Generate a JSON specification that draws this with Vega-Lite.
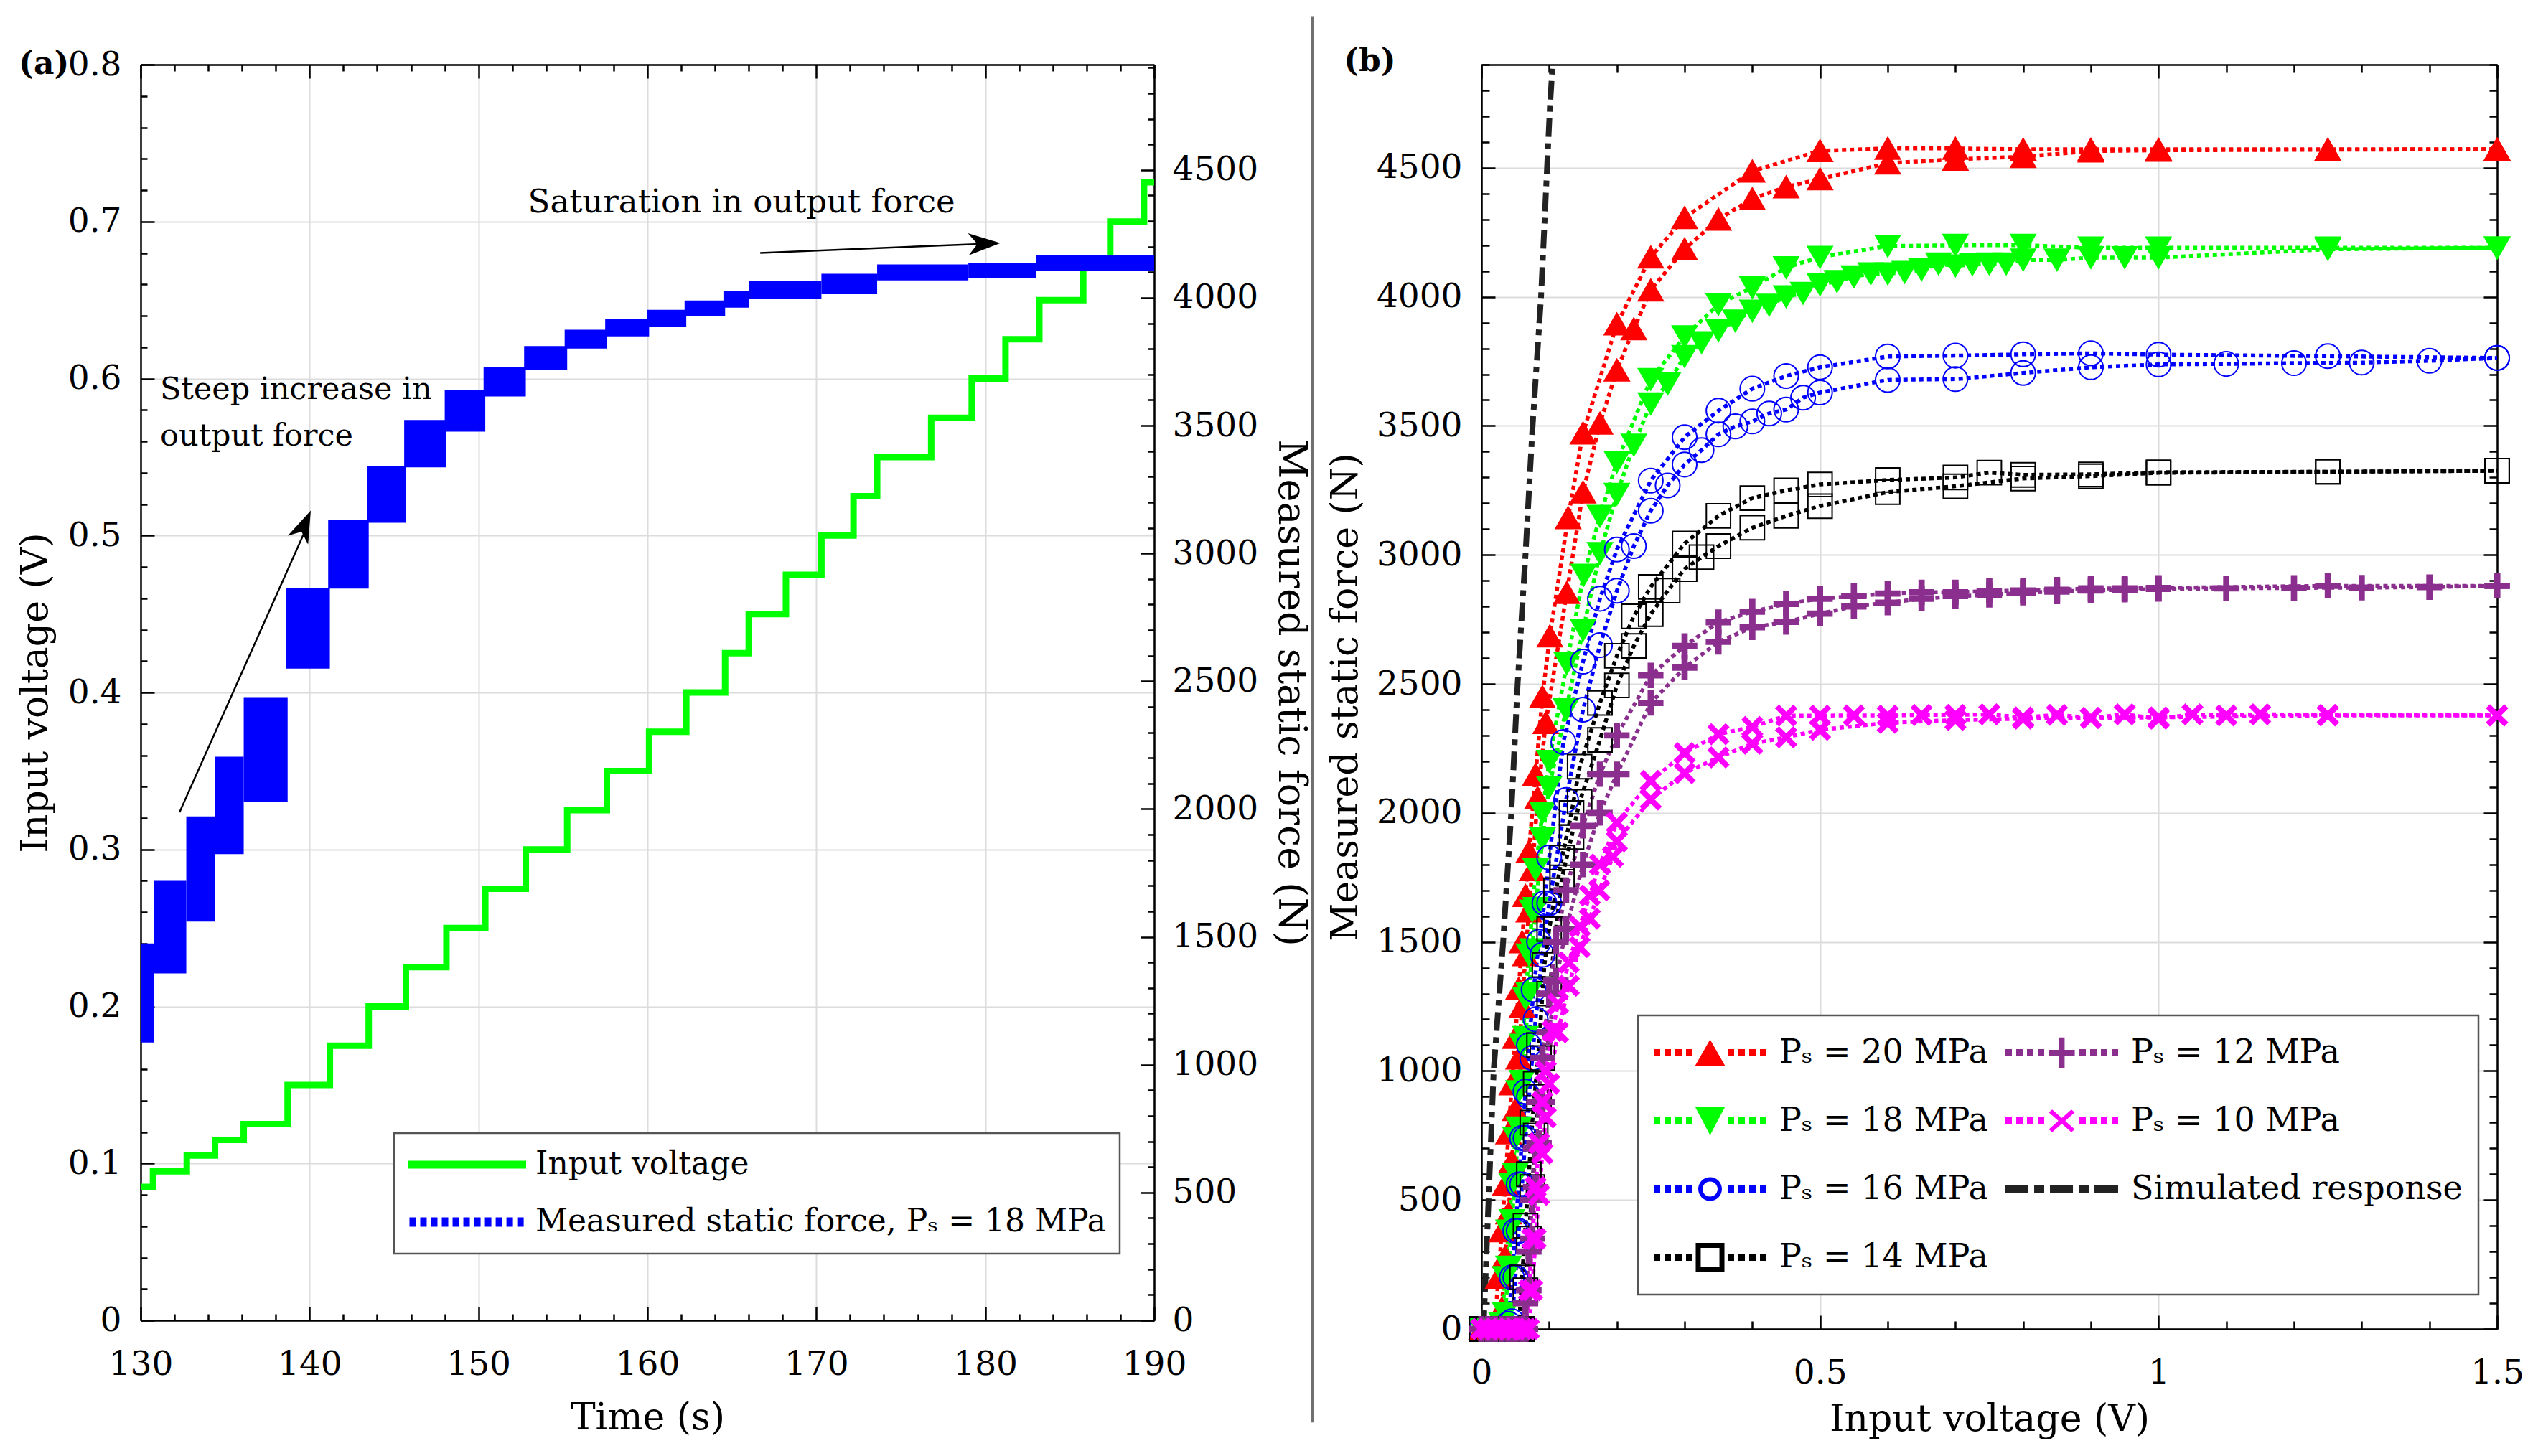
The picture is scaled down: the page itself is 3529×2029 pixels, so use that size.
{
  "$schema": "https://vega.github.io/schema/vega-lite/v6.json",
  "background": "white",
  "padding": {"left": 23, "top": 20, "right": 10, "bottom": 10},
  "config": {
    "font": "DejaVu Serif",
    "view": {"stroke": null},
    "axis": {
      "domainColor": "#000000",
      "domainWidth": 2.5,
      "tickColor": "#000000",
      "tickWidth": 2.5,
      "labelFontSize": 47,
      "labelColor": "#000000",
      "titleFontSize": 52,
      "titleFontWeight": "normal",
      "titleColor": "#000000",
      "gridColor": "#dcdcdc",
      "gridWidth": 2,
      "labelFlush": false,
      "labelOverlap": false
    },
    "legend": {"labelColor": "#000000"}
  },
  "resolve": {"scale": {"color": "independent"}, "legend": {"color": "independent"}},
  "datasets": {
    "volt": [
      {"t": 130, "v": 0.085}, {"t": 130.73, "v": 0.095}, {"t": 132.73, "v": 0.105}, {"t": 134.4, "v": 0.115},
      {"t": 136.1, "v": 0.125}, {"t": 138.7, "v": 0.15}, {"t": 141.2, "v": 0.175}, {"t": 143.5, "v": 0.2},
      {"t": 145.7, "v": 0.225}, {"t": 148.1, "v": 0.25}, {"t": 150.4, "v": 0.275}, {"t": 152.8, "v": 0.3},
      {"t": 155.25, "v": 0.325}, {"t": 157.6, "v": 0.35}, {"t": 160.1, "v": 0.375}, {"t": 162.3, "v": 0.4},
      {"t": 164.6, "v": 0.425}, {"t": 166.0, "v": 0.45}, {"t": 168.2, "v": 0.475}, {"t": 170.3, "v": 0.5},
      {"t": 172.2, "v": 0.525}, {"t": 173.6, "v": 0.55}, {"t": 176.8, "v": 0.575}, {"t": 179.2, "v": 0.6},
      {"t": 181.2, "v": 0.625}, {"t": 183.2, "v": 0.65}, {"t": 185.8, "v": 0.675}, {"t": 187.4, "v": 0.7},
      {"t": 189.4, "v": 0.725}, {"t": 190, "v": 0.725}
    ],
    "force": [
      {"t0": 130, "t1": 130.8, "lo": 1087, "hi": 1474},
      {"t0": 130.8, "t1": 132.7, "lo": 1357, "hi": 1719},
      {"t0": 132.7, "t1": 134.4, "lo": 1560, "hi": 1971},
      {"t0": 134.4, "t1": 136.1, "lo": 1824, "hi": 2205},
      {"t0": 136.1, "t1": 138.7, "lo": 2027, "hi": 2438},
      {"t0": 138.6, "t1": 141.2, "lo": 2549, "hi": 2865},
      {"t0": 141.1, "t1": 143.5, "lo": 2862, "hi": 3132},
      {"t0": 143.4, "t1": 145.7, "lo": 3120, "hi": 3341},
      {"t0": 145.6, "t1": 148.1, "lo": 3337, "hi": 3522},
      {"t0": 148.0, "t1": 150.4, "lo": 3476, "hi": 3639},
      {"t0": 150.3, "t1": 152.8, "lo": 3614, "hi": 3728},
      {"t0": 152.7, "t1": 155.25, "lo": 3719, "hi": 3811},
      {"t0": 155.1, "t1": 157.6, "lo": 3801, "hi": 3875},
      {"t0": 157.5, "t1": 160.1, "lo": 3849, "hi": 3916},
      {"t0": 160.0, "t1": 162.3, "lo": 3887, "hi": 3953},
      {"t0": 162.2, "t1": 164.6, "lo": 3928, "hi": 3989},
      {"t0": 164.5, "t1": 166.0, "lo": 3961, "hi": 4025},
      {"t0": 166.0, "t1": 170.3, "lo": 3996, "hi": 4065},
      {"t0": 170.3, "t1": 173.6, "lo": 4014, "hi": 4094},
      {"t0": 173.6, "t1": 179.0, "lo": 4068, "hi": 4130},
      {"t0": 179.0, "t1": 183.0, "lo": 4076, "hi": 4137},
      {"t0": 183.0, "t1": 190.0, "lo": 4105, "hi": 4167}
    ],
    "curves": [
      {"s":"20","b":"u","v":0,"f":0},{"s":"20","b":"u","v":0.01,"f":0},{"s":"20","b":"u","v":0.02,"f":30},{"s":"20","b":"u","v":0.025,"f":200},
      {"s":"20","b":"u","v":0.03,"f":380},{"s":"20","b":"u","v":0.035,"f":560},{"s":"20","b":"u","v":0.04,"f":760},{"s":"20","b":"u","v":0.045,"f":950},
      {"s":"20","b":"u","v":0.05,"f":1130},{"s":"20","b":"u","v":0.055,"f":1320},{"s":"20","b":"u","v":0.06,"f":1500},{"s":"20","b":"u","v":0.065,"f":1680},
      {"s":"20","b":"u","v":0.07,"f":1850},{"s":"20","b":"u","v":0.08,"f":2150},{"s":"20","b":"u","v":0.09,"f":2450},{"s":"20","b":"u","v":0.101,"f":2686},
      {"s":"20","b":"u","v":0.128,"f":3144},{"s":"20","b":"u","v":0.15,"f":3472},{"s":"20","b":"u","v":0.2,"f":3895},{"s":"20","b":"u","v":0.25,"f":4154},
      {"s":"20","b":"u","v":0.3,"f":4307},{"s":"20","b":"u","v":0.4,"f":4487},{"s":"20","b":"u","v":0.5,"f":4566},{"s":"20","b":"u","v":0.6,"f":4575},
      {"s":"20","b":"u","v":0.7,"f":4575},{"s":"20","b":"u","v":0.8,"f":4572},{"s":"20","b":"u","v":0.9,"f":4572},{"s":"20","b":"u","v":1,"f":4572},
      {"s":"20","b":"u","v":1.25,"f":4572},{"s":"20","b":"u","v":1.5,"f":4572},
      {"s":"20","b":"l","v":0,"f":0},{"s":"20","b":"l","v":0.01,"f":0},{"s":"20","b":"l","v":0.02,"f":0},{"s":"20","b":"l","v":0.03,"f":80},
      {"s":"20","b":"l","v":0.035,"f":280},{"s":"20","b":"l","v":0.04,"f":450},{"s":"20","b":"l","v":0.045,"f":650},{"s":"20","b":"l","v":0.05,"f":850},
      {"s":"20","b":"l","v":0.055,"f":1050},{"s":"20","b":"l","v":0.06,"f":1250},{"s":"20","b":"l","v":0.065,"f":1450},{"s":"20","b":"l","v":0.07,"f":1620},
      {"s":"20","b":"l","v":0.075,"f":1780},{"s":"20","b":"l","v":0.083,"f":2059},{"s":"20","b":"l","v":0.095,"f":2350},{"s":"20","b":"l","v":0.126,"f":2854},
      {"s":"20","b":"l","v":0.15,"f":3243},{"s":"20","b":"l","v":0.175,"f":3510},{"s":"20","b":"l","v":0.2,"f":3716},{"s":"20","b":"l","v":0.225,"f":3876},
      {"s":"20","b":"l","v":0.25,"f":4026},{"s":"20","b":"l","v":0.3,"f":4185},{"s":"20","b":"l","v":0.35,"f":4301},{"s":"20","b":"l","v":0.4,"f":4380},
      {"s":"20","b":"l","v":0.45,"f":4426},{"s":"20","b":"l","v":0.5,"f":4457},{"s":"20","b":"l","v":0.6,"f":4518},{"s":"20","b":"l","v":0.7,"f":4533},
      {"s":"20","b":"l","v":0.8,"f":4543},{"s":"20","b":"l","v":0.9,"f":4565},{"s":"20","b":"l","v":1,"f":4568},{"s":"20","b":"l","v":1.25,"f":4570},
      {"s":"20","b":"l","v":1.5,"f":4572},

      {"s":"18","b":"u","v":0,"f":0},{"s":"18","b":"u","v":0.01,"f":0},{"s":"18","b":"u","v":0.02,"f":0},{"s":"18","b":"u","v":0.03,"f":20},
      {"s":"18","b":"u","v":0.035,"f":200},{"s":"18","b":"u","v":0.04,"f":380},{"s":"18","b":"u","v":0.045,"f":560},{"s":"18","b":"u","v":0.05,"f":740},
      {"s":"18","b":"u","v":0.055,"f":920},{"s":"18","b":"u","v":0.06,"f":1100},{"s":"18","b":"u","v":0.065,"f":1280},{"s":"18","b":"u","v":0.07,"f":1450},
      {"s":"18","b":"u","v":0.075,"f":1620},{"s":"18","b":"u","v":0.08,"f":1780},{"s":"18","b":"u","v":0.09,"f":2000},{"s":"18","b":"u","v":0.1,"f":2200},
      {"s":"18","b":"u","v":0.126,"f":2579},{"s":"18","b":"u","v":0.151,"f":2922},{"s":"18","b":"u","v":0.175,"f":3150},{"s":"18","b":"u","v":0.2,"f":3360},
      {"s":"18","b":"u","v":0.25,"f":3680},{"s":"18","b":"u","v":0.3,"f":3846},{"s":"18","b":"u","v":0.35,"f":3971},{"s":"18","b":"u","v":0.4,"f":4036},
      {"s":"18","b":"u","v":0.45,"f":4113},{"s":"18","b":"u","v":0.5,"f":4154},{"s":"18","b":"u","v":0.6,"f":4197},{"s":"18","b":"u","v":0.7,"f":4200},
      {"s":"18","b":"u","v":0.8,"f":4200},{"s":"18","b":"u","v":0.9,"f":4190},{"s":"18","b":"u","v":1,"f":4190},{"s":"18","b":"u","v":1.25,"f":4190},
      {"s":"18","b":"u","v":1.5,"f":4190},
      {"s":"18","b":"l","v":0,"f":0},{"s":"18","b":"l","v":0.01,"f":0},{"s":"18","b":"l","v":0.02,"f":0},{"s":"18","b":"l","v":0.03,"f":0},
      {"s":"18","b":"l","v":0.035,"f":60},{"s":"18","b":"l","v":0.04,"f":240},{"s":"18","b":"l","v":0.045,"f":420},{"s":"18","b":"l","v":0.05,"f":600},
      {"s":"18","b":"l","v":0.055,"f":780},{"s":"18","b":"l","v":0.06,"f":960},{"s":"18","b":"l","v":0.065,"f":1130},{"s":"18","b":"l","v":0.07,"f":1300},
      {"s":"18","b":"l","v":0.075,"f":1470},{"s":"18","b":"l","v":0.08,"f":1630},{"s":"18","b":"l","v":0.09,"f":1900},{"s":"18","b":"l","v":0.1,"f":2100},
      {"s":"18","b":"l","v":0.125,"f":2400},{"s":"18","b":"l","v":0.15,"f":2708},{"s":"18","b":"l","v":0.175,"f":3006},{"s":"18","b":"l","v":0.2,"f":3235},
      {"s":"18","b":"l","v":0.225,"f":3426},{"s":"18","b":"l","v":0.25,"f":3586},{"s":"18","b":"l","v":0.275,"f":3663},{"s":"18","b":"l","v":0.3,"f":3769},
      {"s":"18","b":"l","v":0.325,"f":3823},{"s":"18","b":"l","v":0.35,"f":3869},{"s":"18","b":"l","v":0.375,"f":3907},{"s":"18","b":"l","v":0.4,"f":3945},
      {"s":"18","b":"l","v":0.425,"f":3968},{"s":"18","b":"l","v":0.45,"f":4001},{"s":"18","b":"l","v":0.475,"f":4014},{"s":"18","b":"l","v":0.5,"f":4047},
      {"s":"18","b":"l","v":0.525,"f":4060},{"s":"18","b":"l","v":0.55,"f":4078},{"s":"18","b":"l","v":0.575,"f":4090},{"s":"18","b":"l","v":0.6,"f":4090},
      {"s":"18","b":"l","v":0.625,"f":4095},{"s":"18","b":"l","v":0.65,"f":4105},{"s":"18","b":"l","v":0.675,"f":4128},{"s":"18","b":"l","v":0.7,"f":4120},
      {"s":"18","b":"l","v":0.725,"f":4125},{"s":"18","b":"l","v":0.75,"f":4128},{"s":"18","b":"l","v":0.775,"f":4128},{"s":"18","b":"l","v":0.8,"f":4143},
      {"s":"18","b":"l","v":0.85,"f":4143},{"s":"18","b":"l","v":0.9,"f":4152},{"s":"18","b":"l","v":0.95,"f":4152},{"s":"18","b":"l","v":1,"f":4152},
      {"s":"18","b":"l","v":1.25,"f":4184},{"s":"18","b":"l","v":1.5,"f":4190},

      {"s":"16","b":"u","v":0,"f":0},{"s":"16","b":"u","v":0.01,"f":0},{"s":"16","b":"u","v":0.02,"f":0},{"s":"16","b":"u","v":0.03,"f":0},
      {"s":"16","b":"u","v":0.04,"f":20},{"s":"16","b":"u","v":0.045,"f":200},{"s":"16","b":"u","v":0.05,"f":380},{"s":"16","b":"u","v":0.055,"f":560},
      {"s":"16","b":"u","v":0.06,"f":740},{"s":"16","b":"u","v":0.065,"f":920},{"s":"16","b":"u","v":0.07,"f":1100},{"s":"16","b":"u","v":0.077,"f":1315},
      {"s":"16","b":"u","v":0.085,"f":1500},{"s":"16","b":"u","v":0.093,"f":1650},{"s":"16","b":"u","v":0.1,"f":1827},{"s":"16","b":"u","v":0.121,"f":2275},
      {"s":"16","b":"u","v":0.15,"f":2586},{"s":"16","b":"u","v":0.175,"f":2830},{"s":"16","b":"u","v":0.2,"f":3021},{"s":"16","b":"u","v":0.25,"f":3288},
      {"s":"16","b":"u","v":0.3,"f":3456},{"s":"16","b":"u","v":0.35,"f":3559},{"s":"16","b":"u","v":0.4,"f":3644},{"s":"16","b":"u","v":0.45,"f":3693},
      {"s":"16","b":"u","v":0.5,"f":3727},{"s":"16","b":"u","v":0.6,"f":3769},{"s":"16","b":"u","v":0.7,"f":3772},{"s":"16","b":"u","v":0.8,"f":3777},
      {"s":"16","b":"u","v":0.9,"f":3781},{"s":"16","b":"u","v":1,"f":3776},{"s":"16","b":"u","v":1.25,"f":3770},{"s":"16","b":"u","v":1.5,"f":3763},
      {"s":"16","b":"l","v":0,"f":0},{"s":"16","b":"l","v":0.01,"f":0},{"s":"16","b":"l","v":0.02,"f":0},{"s":"16","b":"l","v":0.03,"f":0},
      {"s":"16","b":"l","v":0.04,"f":0},{"s":"16","b":"l","v":0.045,"f":30},{"s":"16","b":"l","v":0.05,"f":200},{"s":"16","b":"l","v":0.055,"f":380},
      {"s":"16","b":"l","v":0.06,"f":560},{"s":"16","b":"l","v":0.065,"f":740},{"s":"16","b":"l","v":0.07,"f":900},{"s":"16","b":"l","v":0.075,"f":1050},
      {"s":"16","b":"l","v":0.08,"f":1200},{"s":"16","b":"l","v":0.09,"f":1450},{"s":"16","b":"l","v":0.1,"f":1650},{"s":"16","b":"l","v":0.125,"f":2050},
      {"s":"16","b":"l","v":0.15,"f":2400},{"s":"16","b":"l","v":0.175,"f":2650},{"s":"16","b":"l","v":0.2,"f":2861},{"s":"16","b":"l","v":0.225,"f":3034},
      {"s":"16","b":"l","v":0.25,"f":3171},{"s":"16","b":"l","v":0.275,"f":3269},{"s":"16","b":"l","v":0.3,"f":3350},{"s":"16","b":"l","v":0.325,"f":3406},
      {"s":"16","b":"l","v":0.35,"f":3467},{"s":"16","b":"l","v":0.375,"f":3498},{"s":"16","b":"l","v":0.4,"f":3517},{"s":"16","b":"l","v":0.425,"f":3548},
      {"s":"16","b":"l","v":0.45,"f":3563},{"s":"16","b":"l","v":0.475,"f":3609},{"s":"16","b":"l","v":0.5,"f":3629},{"s":"16","b":"l","v":0.6,"f":3678},
      {"s":"16","b":"l","v":0.7,"f":3681},{"s":"16","b":"l","v":0.8,"f":3705},{"s":"16","b":"l","v":0.9,"f":3727},{"s":"16","b":"l","v":1,"f":3738},
      {"s":"16","b":"l","v":1.1,"f":3740},{"s":"16","b":"l","v":1.2,"f":3743},{"s":"16","b":"l","v":1.3,"f":3745},{"s":"16","b":"l","v":1.4,"f":3752},
      {"s":"16","b":"l","v":1.5,"f":3763},

      {"s":"14","b":"u","v":0,"f":0},{"s":"14","b":"u","v":0.01,"f":0},{"s":"14","b":"u","v":0.02,"f":0},{"s":"14","b":"u","v":0.03,"f":0},
      {"s":"14","b":"u","v":0.04,"f":0},{"s":"14","b":"u","v":0.05,"f":0},{"s":"14","b":"u","v":0.055,"f":0},{"s":"14","b":"u","v":0.06,"f":200},
      {"s":"14","b":"u","v":0.065,"f":400},{"s":"14","b":"u","v":0.07,"f":600},{"s":"14","b":"u","v":0.075,"f":800},{"s":"14","b":"u","v":0.08,"f":950},
      {"s":"14","b":"u","v":0.085,"f":1100},{"s":"14","b":"u","v":0.093,"f":1411},{"s":"14","b":"u","v":0.1,"f":1550},{"s":"14","b":"u","v":0.11,"f":1700},
      {"s":"14","b":"u","v":0.119,"f":1827},{"s":"14","b":"u","v":0.133,"f":2000},{"s":"14","b":"u","v":0.145,"f":2179},{"s":"14","b":"u","v":0.175,"f":2426},
      {"s":"14","b":"u","v":0.2,"f":2609},{"s":"14","b":"u","v":0.225,"f":2762},{"s":"14","b":"u","v":0.25,"f":2876},{"s":"14","b":"u","v":0.3,"f":3044},
      {"s":"14","b":"u","v":0.35,"f":3151},{"s":"14","b":"u","v":0.4,"f":3220},{"s":"14","b":"u","v":0.45,"f":3250},{"s":"14","b":"u","v":0.5,"f":3273},
      {"s":"14","b":"u","v":0.6,"f":3290},{"s":"14","b":"u","v":0.7,"f":3300},{"s":"14","b":"u","v":0.75,"f":3319},{"s":"14","b":"u","v":0.8,"f":3310},
      {"s":"14","b":"u","v":0.9,"f":3312},{"s":"14","b":"u","v":1,"f":3320},{"s":"14","b":"u","v":1.25,"f":3322},{"s":"14","b":"u","v":1.5,"f":3326},
      {"s":"14","b":"l","v":0,"f":0},{"s":"14","b":"l","v":0.01,"f":0},{"s":"14","b":"l","v":0.02,"f":0},{"s":"14","b":"l","v":0.03,"f":0},
      {"s":"14","b":"l","v":0.04,"f":0},{"s":"14","b":"l","v":0.05,"f":0},{"s":"14","b":"l","v":0.06,"f":0},{"s":"14","b":"l","v":0.065,"f":150},
      {"s":"14","b":"l","v":0.07,"f":350},{"s":"14","b":"l","v":0.075,"f":550},{"s":"14","b":"l","v":0.08,"f":750},{"s":"14","b":"l","v":0.085,"f":900},
      {"s":"14","b":"l","v":0.09,"f":1050},{"s":"14","b":"l","v":0.1,"f":1300},{"s":"14","b":"l","v":0.11,"f":1550},{"s":"14","b":"l","v":0.119,"f":1750},
      {"s":"14","b":"l","v":0.133,"f":1907},{"s":"14","b":"l","v":0.145,"f":2043},{"s":"14","b":"l","v":0.175,"f":2283},{"s":"14","b":"l","v":0.2,"f":2494},
      {"s":"14","b":"l","v":0.225,"f":2647},{"s":"14","b":"l","v":0.25,"f":2770},{"s":"14","b":"l","v":0.275,"f":2861},{"s":"14","b":"l","v":0.3,"f":2945},
      {"s":"14","b":"l","v":0.325,"f":2991},{"s":"14","b":"l","v":0.35,"f":3034},{"s":"14","b":"l","v":0.4,"f":3105},{"s":"14","b":"l","v":0.45,"f":3151},
      {"s":"14","b":"l","v":0.5,"f":3189},{"s":"14","b":"l","v":0.6,"f":3243},{"s":"14","b":"l","v":0.7,"f":3266},{"s":"14","b":"l","v":0.8,"f":3296},
      {"s":"14","b":"l","v":0.9,"f":3305},{"s":"14","b":"l","v":1,"f":3318},{"s":"14","b":"l","v":1.25,"f":3322},{"s":"14","b":"l","v":1.5,"f":3326},

      {"s":"12","b":"u","v":0,"f":0},{"s":"12","b":"u","v":0.01,"f":0},{"s":"12","b":"u","v":0.02,"f":0},{"s":"12","b":"u","v":0.03,"f":0},
      {"s":"12","b":"u","v":0.04,"f":0},{"s":"12","b":"u","v":0.05,"f":0},{"s":"12","b":"u","v":0.06,"f":0},{"s":"12","b":"u","v":0.065,"f":100},
      {"s":"12","b":"u","v":0.07,"f":300},{"s":"12","b":"u","v":0.075,"f":500},{"s":"12","b":"u","v":0.08,"f":700},{"s":"12","b":"u","v":0.085,"f":880},
      {"s":"12","b":"u","v":0.09,"f":1050},{"s":"12","b":"u","v":0.1,"f":1300},{"s":"12","b":"u","v":0.11,"f":1500},{"s":"12","b":"u","v":0.125,"f":1700},
      {"s":"12","b":"u","v":0.15,"f":1950},{"s":"12","b":"u","v":0.175,"f":2150},{"s":"12","b":"u","v":0.2,"f":2300},{"s":"12","b":"u","v":0.25,"f":2533},
      {"s":"12","b":"u","v":0.3,"f":2647},{"s":"12","b":"u","v":0.35,"f":2739},{"s":"12","b":"u","v":0.4,"f":2780},{"s":"12","b":"u","v":0.45,"f":2810},
      {"s":"12","b":"u","v":0.5,"f":2830},{"s":"12","b":"u","v":0.55,"f":2840},{"s":"12","b":"u","v":0.6,"f":2850},{"s":"12","b":"u","v":0.65,"f":2855},
      {"s":"12","b":"u","v":0.7,"f":2855},{"s":"12","b":"u","v":0.75,"f":2860},{"s":"12","b":"u","v":0.8,"f":2862},{"s":"12","b":"u","v":0.85,"f":2865},
      {"s":"12","b":"u","v":0.9,"f":2870},{"s":"12","b":"u","v":0.95,"f":2870},{"s":"12","b":"u","v":1,"f":2872},{"s":"12","b":"u","v":1.25,"f":2880},
      {"s":"12","b":"u","v":1.5,"f":2880},
      {"s":"12","b":"l","v":0,"f":0},{"s":"12","b":"l","v":0.01,"f":0},{"s":"12","b":"l","v":0.02,"f":0},{"s":"12","b":"l","v":0.03,"f":0},
      {"s":"12","b":"l","v":0.04,"f":0},{"s":"12","b":"l","v":0.05,"f":0},{"s":"12","b":"l","v":0.06,"f":0},{"s":"12","b":"l","v":0.065,"f":0},
      {"s":"12","b":"l","v":0.07,"f":150},{"s":"12","b":"l","v":0.075,"f":350},{"s":"12","b":"l","v":0.08,"f":550},{"s":"12","b":"l","v":0.085,"f":720},
      {"s":"12","b":"l","v":0.09,"f":880},{"s":"12","b":"l","v":0.1,"f":1150},{"s":"12","b":"l","v":0.11,"f":1350},{"s":"12","b":"l","v":0.125,"f":1550},
      {"s":"12","b":"l","v":0.15,"f":1800},{"s":"12","b":"l","v":0.175,"f":2000},{"s":"12","b":"l","v":0.2,"f":2150},{"s":"12","b":"l","v":0.25,"f":2426},
      {"s":"12","b":"l","v":0.3,"f":2563},{"s":"12","b":"l","v":0.35,"f":2663},{"s":"12","b":"l","v":0.4,"f":2719},{"s":"12","b":"l","v":0.45,"f":2740},
      {"s":"12","b":"l","v":0.5,"f":2772},{"s":"12","b":"l","v":0.55,"f":2800},{"s":"12","b":"l","v":0.6,"f":2815},{"s":"12","b":"l","v":0.65,"f":2830},
      {"s":"12","b":"l","v":0.7,"f":2840},{"s":"12","b":"l","v":0.75,"f":2845},{"s":"12","b":"l","v":0.8,"f":2853},{"s":"12","b":"l","v":0.85,"f":2858},
      {"s":"12","b":"l","v":0.9,"f":2862},{"s":"12","b":"l","v":0.95,"f":2865},{"s":"12","b":"l","v":1,"f":2868},{"s":"12","b":"l","v":1.1,"f":2870},
      {"s":"12","b":"l","v":1.2,"f":2872},{"s":"12","b":"l","v":1.3,"f":2873},{"s":"12","b":"l","v":1.4,"f":2875},{"s":"12","b":"l","v":1.5,"f":2880},

      {"s":"10","b":"u","v":0,"f":0},{"s":"10","b":"u","v":0.01,"f":0},{"s":"10","b":"u","v":0.02,"f":0},{"s":"10","b":"u","v":0.03,"f":0},
      {"s":"10","b":"u","v":0.04,"f":0},{"s":"10","b":"u","v":0.05,"f":0},{"s":"10","b":"u","v":0.06,"f":0},{"s":"10","b":"u","v":0.065,"f":0},
      {"s":"10","b":"u","v":0.07,"f":150},{"s":"10","b":"u","v":0.075,"f":350},{"s":"10","b":"u","v":0.08,"f":550},{"s":"10","b":"u","v":0.085,"f":720},
      {"s":"10","b":"u","v":0.09,"f":880},{"s":"10","b":"u","v":0.095,"f":1000},{"s":"10","b":"u","v":0.105,"f":1155},{"s":"10","b":"u","v":0.113,"f":1260},
      {"s":"10","b":"u","v":0.129,"f":1420},{"s":"10","b":"u","v":0.145,"f":1560},{"s":"10","b":"u","v":0.16,"f":1680},{"s":"10","b":"u","v":0.175,"f":1800},
      {"s":"10","b":"u","v":0.2,"f":1962},{"s":"10","b":"u","v":0.25,"f":2124},{"s":"10","b":"u","v":0.3,"f":2232},{"s":"10","b":"u","v":0.35,"f":2305},
      {"s":"10","b":"u","v":0.4,"f":2333},{"s":"10","b":"u","v":0.45,"f":2377},{"s":"10","b":"u","v":0.5,"f":2377},{"s":"10","b":"u","v":0.55,"f":2378},
      {"s":"10","b":"u","v":0.6,"f":2377},{"s":"10","b":"u","v":0.65,"f":2380},{"s":"10","b":"u","v":0.7,"f":2380},{"s":"10","b":"u","v":0.75,"f":2382},
      {"s":"10","b":"u","v":0.8,"f":2370},{"s":"10","b":"u","v":0.85,"f":2380},{"s":"10","b":"u","v":0.9,"f":2368},{"s":"10","b":"u","v":0.95,"f":2382},
      {"s":"10","b":"u","v":1,"f":2365},{"s":"10","b":"u","v":1.05,"f":2382},{"s":"10","b":"u","v":1.1,"f":2378},{"s":"10","b":"u","v":1.15,"f":2382},
      {"s":"10","b":"u","v":1.25,"f":2380},{"s":"10","b":"u","v":1.5,"f":2378},
      {"s":"10","b":"l","v":0,"f":0},{"s":"10","b":"l","v":0.01,"f":0},{"s":"10","b":"l","v":0.02,"f":0},{"s":"10","b":"l","v":0.03,"f":0},
      {"s":"10","b":"l","v":0.04,"f":0},{"s":"10","b":"l","v":0.05,"f":0},{"s":"10","b":"l","v":0.06,"f":0},{"s":"10","b":"l","v":0.07,"f":0},
      {"s":"10","b":"l","v":0.075,"f":150},{"s":"10","b":"l","v":0.08,"f":350},{"s":"10","b":"l","v":0.085,"f":520},{"s":"10","b":"l","v":0.09,"f":680},
      {"s":"10","b":"l","v":0.095,"f":820},{"s":"10","b":"l","v":0.1,"f":950},{"s":"10","b":"l","v":0.113,"f":1150},{"s":"10","b":"l","v":0.129,"f":1330},
      {"s":"10","b":"l","v":0.145,"f":1480},{"s":"10","b":"l","v":0.16,"f":1590},{"s":"10","b":"l","v":0.174,"f":1700},{"s":"10","b":"l","v":0.194,"f":1830},
      {"s":"10","b":"l","v":0.2,"f":1890},{"s":"10","b":"l","v":0.25,"f":2052},{"s":"10","b":"l","v":0.3,"f":2154},{"s":"10","b":"l","v":0.35,"f":2215},
      {"s":"10","b":"l","v":0.4,"f":2268},{"s":"10","b":"l","v":0.45,"f":2293},{"s":"10","b":"l","v":0.5,"f":2322},{"s":"10","b":"l","v":0.6,"f":2349},
      {"s":"10","b":"l","v":0.7,"f":2360},{"s":"10","b":"l","v":0.8,"f":2365},{"s":"10","b":"l","v":0.9,"f":2368},{"s":"10","b":"l","v":1,"f":2370},
      {"s":"10","b":"l","v":1.25,"f":2378},{"s":"10","b":"l","v":1.5,"f":2378},

      {"s":"sim","b":"s","v":0.003,"f":0},{"s":"sim","b":"s","v":0.018,"f":1000},{"s":"sim","b":"s","v":0.032,"f":1500},{"s":"sim","b":"s","v":0.044,"f":2000},
      {"s":"sim","b":"s","v":0.0534,"f":2500},{"s":"sim","b":"s","v":0.065,"f":3000},{"s":"sim","b":"s","v":0.0755,"f":3500},{"s":"sim","b":"s","v":0.088,"f":4000},
      {"s":"sim","b":"s","v":0.101,"f":4731},{"s":"sim","b":"s","v":0.105,"f":4900}
    ]
  },
  "spacing": 456,
  "bounds": "flush",
  "hconcat": [
    {
      "width": 1412,
      "height": 1750,
      "layer": [
        {
          "data": {"name": "volt"},
          "mark": {"type": "line", "interpolate": "step-after", "strokeWidth": 9},
          "encoding": {
            "x": {
              "field": "t", "type": "quantitative",
              "scale": {"domain": [130, 190], "nice": false, "zero": false},
              "axis": {
                "orient": "bottom", "title": "Time (s)", "titlePadding": 16,
                "values": [130,132,134,136,138,140,142,144,146,148,150,152,154,156,158,160,162,164,166,168,170,172,174,176,178,180,182,184,186,188,190],
                "format": "d",
                "labelExpr": "datum.value % 10 == 0 ? datum.label : ''",
                "tickSize": {"condition": {"test": "datum.value % 10 == 0", "value": -19}, "value": -9},
                "labelPadding": 57,
                "grid": true,
                "gridOpacity": {"condition": {"test": "datum.value % 10 == 0", "value": 1}, "value": 0}
              }
            },
            "y": {
              "field": "v", "type": "quantitative",
              "scale": {"domain": [0, 0.8], "nice": false},
              "axis": {
                "orient": "left", "title": "Input voltage (V)", "titlePadding": 18,
                "values": [0,0.02,0.04,0.06,0.08,0.1,0.12,0.14,0.16,0.18,0.2,0.22,0.24,0.26,0.28,0.3,0.32,0.34,0.36,0.38,0.4,0.42,0.44,0.46,0.48,0.5,0.52,0.54,0.56,0.58,0.6,0.62,0.64,0.66,0.68,0.7,0.72,0.74,0.76,0.78,0.8],
                "format": "~g",
                "labelExpr": "abs(datum.value*10 - round(datum.value*10)) < 1e-6 ? datum.label : ''",
                "tickSize": {"condition": {"test": "abs(datum.value*10 - round(datum.value*10)) < 1e-6", "value": -19}, "value": -9},
                "labelPadding": 46,
                "grid": true,
                "gridOpacity": {"condition": {"test": "abs(datum.value*10 - round(datum.value*10)) < 1e-6", "value": 1}, "value": 0}
              }
            },
            "color": {
              "datum": "Input voltage",
              "type": "nominal",
              "scale": {"domain": ["Input voltage", "Measured static force, Pₛ = 18 MPa"], "range": ["#00ff00", "#0000ff"]},
              "legend": {
                "orient": "none", "legendX": 353, "legendY": 1489, "title": null,
                "symbolSize": 27225, "clipHeight": 50, "rowPadding": 30, "padding": 19,
                "labelOffset": 13, "labelFontSize": 44, "labelLimit": 2000,
                "strokeColor": "#555555", "fillColor": "#ffffff",
                "encode": {
                  "legend": {"update": {"strokeWidth": {"value": 2.5}}},
                  "symbols": {"update": {
                    "shape": {"signal": "datum.value == 'Input voltage' ? 'M-1,-0.067H1V0.067H-1Z' : 'M-0.97,-0.079H-0.861V0.079H-0.97Z M-0.788,-0.079H-0.679V0.079H-0.788Z M-0.606,-0.079H-0.497V0.079H-0.606Z M-0.424,-0.079H-0.315V0.079H-0.424Z M-0.242,-0.079H-0.133V0.079H-0.242Z M-0.06,-0.079H0.049V0.079H-0.06Z M0.122,-0.079H0.231V0.079H0.122Z M0.304,-0.079H0.413V0.079H0.304Z M0.486,-0.079H0.595V0.079H0.486Z M0.668,-0.079H0.777V0.079H0.668Z M0.85,-0.079H0.959V0.079H0.85Z'"},
                    "fill": {"signal": "datum.value == 'Input voltage' ? '#00ff00' : '#0000ff'"},
                    "fillOpacity": {"value": 1},
                    "opacity": {"value": 1},
                    "stroke": {"value": "transparent"},
                    "strokeWidth": {"value": 0}
                  }}
                }
              }
            }
          }
        },
        {
          "data": {"name": "force"},
          "mark": {"type": "rect", "color": "#0000ff"},
          "encoding": {
            "x": {
              "field": "t0", "type": "quantitative",
              "scale": {"domain": [130, 190], "nice": false, "zero": false},
              "axis": {
                "orient": "top", "title": null, "labels": false, "grid": false,
                "values": [130,132,134,136,138,140,142,144,146,148,150,152,154,156,158,160,162,164,166,168,170,172,174,176,178,180,182,184,186,188,190],
                "tickSize": {"condition": {"test": "datum.value % 10 == 0", "value": -19}, "value": -9}
              }
            },
            "x2": {"field": "t1"},
            "y": {
              "field": "lo", "type": "quantitative",
              "scale": {"domain": [0, 4912], "nice": false},
              "axis": {
                "orient": "right", "title": "Measured static force (N)", "titlePadding": 18, "titleFontSize": 54,
                "values": [0,100,200,300,400,500,600,700,800,900,1000,1100,1200,1300,1400,1500,1600,1700,1800,1900,2000,2100,2200,2300,2400,2500,2600,2700,2800,2900,3000,3100,3200,3300,3400,3500,3600,3700,3800,3900,4000,4100,4200,4300,4400,4500,4600,4700,4800,4900],
                "format": "d",
                "labelExpr": "datum.value % 500 == 0 ? datum.label : ''",
                "tickSize": {"condition": {"test": "datum.value % 500 == 0", "value": -19}, "value": -9},
                "labelPadding": 44,
                "grid": false
              }
            },
            "y2": {"field": "hi"}
          }
        },
        {
          "data": {"values": [{}]},
          "mark": {"type": "text", "text": "Saturation in output force", "fontSize": 45, "align": "center", "baseline": "middle"},
          "encoding": {
            "x": {"datum": 165.57, "type": "quantitative", "scale": {"domain": [130, 190], "nice": false, "zero": false}, "axis": null},
            "y": {"datum": 0.7122, "type": "quantitative", "scale": {"domain": [0, 0.8], "nice": false}, "axis": null}
          }
        },
        {
          "data": {"values": [{}]},
          "mark": {"type": "text", "text": "Steep increase in", "fontSize": 43, "align": "left", "baseline": "middle"},
          "encoding": {
            "x": {"datum": 131.15, "type": "quantitative", "scale": {"domain": [130, 190], "nice": false, "zero": false}, "axis": null},
            "y": {"datum": 0.5929, "type": "quantitative", "scale": {"domain": [0, 0.8], "nice": false}, "axis": null}
          }
        },
        {
          "data": {"values": [{}]},
          "mark": {"type": "text", "text": "output force", "fontSize": 43, "align": "left", "baseline": "middle"},
          "encoding": {
            "x": {"datum": 131.15, "type": "quantitative", "scale": {"domain": [130, 190], "nice": false, "zero": false}, "axis": null},
            "y": {"datum": 0.5632, "type": "quantitative", "scale": {"domain": [0, 0.8], "nice": false}, "axis": null}
          }
        },
        {
          "data": {"values": [{}]},
          "mark": {"type": "rule", "color": "#000000", "strokeWidth": 2.5},
          "encoding": {
            "x": {"datum": 132.3, "type": "quantitative", "scale": {"domain": [130, 190], "nice": false, "zero": false}, "axis": null},
            "y": {"datum": 0.3237, "type": "quantitative", "scale": {"domain": [0, 0.8], "nice": false}, "axis": null},
            "x2": {"datum": 139.9},
            "y2": {"datum": 0.507}
          }
        },
        {
          "data": {"values": [{}]},
          "mark": {"type": "point", "shape": "M0,0L0.55,1.6L0,1.15L-0.55,1.6Z", "size": 3136, "angle": 23.5, "filled": true, "color": "#000000", "opacity": 1},
          "encoding": {
            "x": {"datum": 140.07, "type": "quantitative", "scale": {"domain": [130, 190], "nice": false, "zero": false}, "axis": null},
            "y": {"datum": 0.5159, "type": "quantitative", "scale": {"domain": [0, 0.8], "nice": false}, "axis": null}
          }
        },
        {
          "data": {"values": [{}]},
          "mark": {"type": "rule", "color": "#000000", "strokeWidth": 2.5},
          "encoding": {
            "x": {"datum": 166.68, "type": "quantitative", "scale": {"domain": [130, 190], "nice": false, "zero": false}, "axis": null},
            "y": {"datum": 0.680, "type": "quantitative", "scale": {"domain": [0, 0.8], "nice": false}, "axis": null},
            "x2": {"datum": 180.5},
            "y2": {"datum": 0.6861}
          }
        },
        {
          "data": {"values": [{}]},
          "mark": {"type": "point", "shape": "M0,0L0.55,1.6L0,1.15L-0.55,1.6Z", "size": 3136, "angle": 87.8, "filled": true, "color": "#000000", "opacity": 1},
          "encoding": {
            "x": {"datum": 180.9, "type": "quantitative", "scale": {"domain": [130, 190], "nice": false, "zero": false}, "axis": null},
            "y": {"datum": 0.6863, "type": "quantitative", "scale": {"domain": [0, 0.8], "nice": false}, "axis": null}
          }
        },
        {
          "data": {"values": [{}]},
          "mark": {"type": "text", "text": "(a)", "fontSize": 44, "fontWeight": "bold", "align": "left", "baseline": "middle"},
          "encoding": {
            "x": {"datum": 122.78, "type": "quantitative", "scale": {"domain": [130, 190], "nice": false, "zero": false}, "axis": null},
            "y": {"datum": 0.8, "type": "quantitative", "scale": {"domain": [0, 0.8], "nice": false}, "axis": null}
          }
        }
      ],
      "resolve": {"scale": {"y": "independent"}, "axis": {"x": "independent", "y": "independent"}}
    },
    {
      "width": 1415,
      "height": 1762,
      "data": {"name": "curves"},
      "layer": [
        {
          "data": {"values": [{}]},
          "mark": {"type": "rule", "color": "#707070", "strokeWidth": 4},
          "encoding": {
            "x": {"datum": -0.25, "type": "quantitative", "scale": {"domain": [0, 1.5], "nice": false, "zero": false}, "axis": null},
            "y": {"datum": -362, "type": "quantitative", "scale": {"domain": [0, 4900], "nice": false}, "axis": null},
            "y2": {"datum": 5088}
          }
        },
        {
          "data": {"values": [{}]},
          "mark": {"type": "text", "text": "(b)", "fontSize": 44, "fontWeight": "bold", "align": "center", "baseline": "middle"},
          "encoding": {
            "x": {"datum": -0.165, "type": "quantitative", "scale": {"domain": [0, 1.5], "nice": false, "zero": false}, "axis": null},
            "y": {"datum": 4910, "type": "quantitative", "scale": {"domain": [0, 4900], "nice": false}, "axis": null}
          }
        },
        {
          "transform": [{"filter": "datum.s != 'sim'"}],
          "mark": {"type": "line", "strokeWidth": 5.5, "strokeDash": [6, 5], "strokeCap": "butt"},
          "encoding": {
            "x": {"field": "v", "type": "quantitative", "scale": {"domain": [0, 1.5], "nice": false, "zero": false}, "axis": null},
            "y": {"field": "f", "type": "quantitative", "scale": {"domain": [0, 4900], "nice": false}, "axis": null},
            "detail": {"field": "b"},
            "color": {
              "field": "s", "type": "nominal",
              "scale": {
                "domain": ["20", "18", "16", "14", "12", "10", "sim"],
                "range": ["#ff0000", "#00ff00", "#0000ff", "#000000", "#8b2f8f", "#ff00ff", "#222222"]
              },
              "legend": {
                "orient": "none", "legendX": 218, "legendY": 1325, "title": null, "columns": 2,
                "symbolSize": 24649, "clipHeight": 60, "rowPadding": 35, "columnPadding": 24, "padding": 22,
                "labelOffset": 18, "labelFontSize": 46, "labelLimit": 2000,
                "strokeColor": "#555555", "fillColor": "#ffffff",
                "labelExpr": "datum.value == 'sim' ? 'Simulated response' : 'Pₛ = ' + datum.value + ' MPa'",
                "encode": {
                  "legend": {"update": {"strokeWidth": {"value": 2.5}}},
                  "symbols": {"update": {
                    "shape": {"signal": "datum.value == 'sim' ? 'M-1,-0.064H-0.592V0.064H-1Z M-0.49,-0.064H-0.312V0.064H-0.49Z M-0.21,-0.064H0.198V0.064H-0.21Z M0.3,-0.064H0.478V0.064H0.3Z M0.58,-0.064H1V0.064H0.58Z' : 'M-1,-0.064H-0.885V0.064H-1Z M-0.809,-0.064H-0.694V0.064H-0.809Z M-0.618,-0.064H-0.503V0.064H-0.618Z M-0.427,-0.064H-0.312V0.064H-0.427Z M0.312,-0.064H0.427V0.064H0.312Z M0.503,-0.064H0.618V0.064H0.503Z M0.694,-0.064H0.809V0.064H0.694Z M0.885,-0.064H1V0.064H0.885Z ' + (datum.value == '20' ? 'M0,-0.236L0.268,0.236L-0.268,0.236Z' : datum.value == '18' ? 'M-0.268,-0.255L0.268,-0.255L0,0.255Z' : datum.value == '16' ? 'M-0.21,0A0.21,0.21,0,1,1,0.21,0A0.21,0.21,0,1,1,-0.21,0Z M-0.134,0A0.134,0.134,0,1,0,0.134,0A0.134,0.134,0,1,0,-0.134,0Z' : datum.value == '14' ? 'M-0.255,-0.255H0.255V0.255H-0.255Z M-0.166,-0.166V0.166H0.166V-0.166Z' : datum.value == '12' ? 'M-0.23,-0.05H-0.05V-0.27H0.05V-0.05H0.23V0.05H0.05V0.27H-0.05V0.05H-0.23Z' : 'M-0.23,-0.15L-0.17,-0.2L0,-0.05L0.17,-0.2L0.23,-0.15L0.06,0L0.23,0.15L0.17,0.2L0,0.05L-0.17,0.2L-0.23,0.15L-0.06,0Z')"},
                    "fill": {"signal": "datum.value == '20' ? '#ff0000' : datum.value == '18' ? '#00ff00' : datum.value == '16' ? '#0000ff' : datum.value == '14' ? '#000000' : datum.value == '12' ? '#8b2f8f' : datum.value == '10' ? '#ff00ff' : '#222222'"},
                    "fillOpacity": {"value": 1},
                    "opacity": {"value": 1},
                    "stroke": {"value": "transparent"},
                    "strokeWidth": {"value": 0},
                    "strokeDash": {"value": []}
                  }}
                }
              }
            }
          }
        },
        {
          "transform": [{"filter": "datum.s == 'sim'"}],
          "mark": {"type": "line", "color": "#222222", "strokeWidth": 8, "strokeDash": [26, 9, 8, 9]},
          "encoding": {
            "x": {
              "field": "v", "type": "quantitative",
              "scale": {"domain": [0, 1.5], "nice": false, "zero": false},
              "axis": {
                "orient": "top", "title": null, "labels": false, "grid": false,
                "values": [0,0.1,0.2,0.3,0.4,0.5,0.6,0.7,0.8,0.9,1,1.1,1.2,1.3,1.4,1.5],
                "tickSize": {"condition": {"test": "abs(datum.value*2 - round(datum.value*2)) < 1e-6", "value": -19}, "value": -11}
              }
            },
            "y": {
              "field": "f", "type": "quantitative",
              "scale": {"domain": [0, 4900], "nice": false},
              "axis": {
                "orient": "right", "title": null, "labels": false, "grid": false,
                "values": [0,100,200,300,400,500,600,700,800,900,1000,1100,1200,1300,1400,1500,1600,1700,1800,1900,2000,2100,2200,2300,2400,2500,2600,2700,2800,2900,3000,3100,3200,3300,3400,3500,3600,3700,3800,3900,4000,4100,4200,4300,4400,4500,4600,4700,4800,4900],
                "tickSize": {"condition": {"test": "datum.value % 500 == 0", "value": -19}, "value": -11}
              }
            }
          }
        },
        {
          "transform": [{"filter": "datum.s != 'sim'"}],
          "mark": {"type": "point", "opacity": 1},
          "encoding": {
            "x": {
              "field": "v", "type": "quantitative",
              "scale": {"domain": [0, 1.5], "nice": false, "zero": false},
              "axis": {
                "orient": "bottom", "title": "Input voltage (V)", "titlePadding": 8,
                "values": [0,0.1,0.2,0.3,0.4,0.5,0.6,0.7,0.8,0.9,1,1.1,1.2,1.3,1.4,1.5],
                "format": "~g",
                "labelExpr": "abs(datum.value*2 - round(datum.value*2)) < 1e-6 ? datum.label : ''",
                "tickSize": {"condition": {"test": "abs(datum.value*2 - round(datum.value*2)) < 1e-6", "value": -19}, "value": -11},
                "labelPadding": 57,
                "grid": true,
                "gridOpacity": {"condition": {"test": "abs(datum.value*2 - round(datum.value*2)) < 1e-6", "value": 1}, "value": 0}
              }
            },
            "y": {
              "field": "f", "type": "quantitative",
              "scale": {"domain": [0, 4900], "nice": false},
              "axis": {
                "orient": "left", "title": "Measured static force (N)", "titlePadding": 16,
                "values": [0,100,200,300,400,500,600,700,800,900,1000,1100,1200,1300,1400,1500,1600,1700,1800,1900,2000,2100,2200,2300,2400,2500,2600,2700,2800,2900,3000,3100,3200,3300,3400,3500,3600,3700,3800,3900,4000,4100,4200,4300,4400,4500,4600,4700,4800,4900],
                "format": "d",
                "labelExpr": "datum.value % 500 == 0 && datum.value <= 4500 ? datum.label : ''",
                "tickSize": {"condition": {"test": "datum.value % 500 == 0", "value": -19}, "value": -11},
                "labelPadding": 46,
                "grid": true,
                "gridOpacity": {"condition": {"test": "datum.value % 500 == 0", "value": 1}, "value": 0}
              }
            },
            "shape": {
              "field": "s", "type": "nominal",
              "scale": {
                "domain": ["20", "18", "16", "14", "12", "10"],
                "range": ["triangle-up", "triangle-down", "circle", "square", "M-1,-0.2H-0.2V-1H0.2V-0.2H1V0.2H0.2V1H-0.2V0.2H-1Z", "M-0.85,-0.6L-0.6,-0.85L0,-0.25L0.6,-0.85L0.85,-0.6L0.25,0L0.85,0.6L0.6,0.85L0,0.25L-0.6,0.85L-0.85,0.6L-0.25,0Z"]
              },
              "legend": null
            },
            "fill": {
              "field": "s", "type": "nominal",
              "scale": {"domain": ["20", "18", "16", "14", "12", "10"], "range": ["#ff0000", "#00ff00", "transparent", "transparent", "#8b2f8f", "#ff00ff"]},
              "legend": null
            },
            "stroke": {
              "field": "s", "type": "nominal",
              "scale": {"domain": ["20", "18", "16", "14", "12", "10"], "range": ["#ff0000", "#00ff00", "#0000ff", "#000000", "#8b2f8f", "#ff00ff"]},
              "legend": null
            },
            "strokeWidth": {
              "field": "s", "type": "nominal",
              "scale": {"domain": ["20", "18", "16", "14", "12", "10"], "range": [2, 2, 6.5, 6.5, 1, 1]},
              "legend": null
            },
            "size": {
              "field": "s", "type": "nominal",
              "scale": {"domain": ["20", "18", "16", "14", "12", "10"], "range": [1200, 1100, 520, 760, 1250, 1000]},
              "legend": null
            }
          }
        }
      ],
      "resolve": {"axis": {"x": "independent", "y": "independent"}}
    }
  ]
}
